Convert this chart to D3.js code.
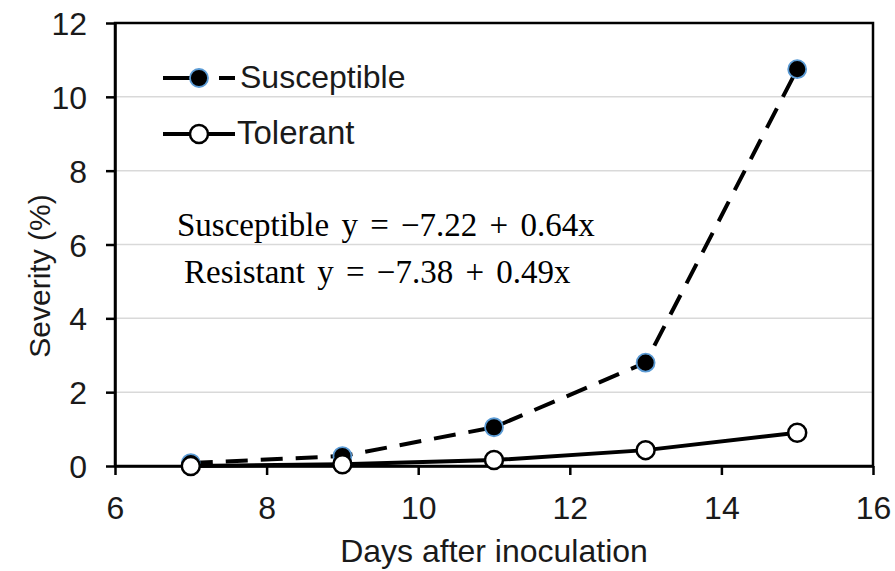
<!DOCTYPE html>
<html>
<head>
<meta charset="utf-8">
<script src="https://cdn.jsdelivr.net/npm/d3@7"></script>
<style>
  body { margin: 0; background: #fff; }
  svg { display: block; }
</style>
</head>
<body>
<svg width="895" height="571" viewBox="0 0 895 571"></svg>
<script>
// Data
const days = [7, 9, 11, 13, 15];
const susceptible = [0.08, 0.27, 1.05, 2.8, 10.75];
const tolerant = [0.0, 0.05, 0.16, 0.43, 0.9];
const xTicks = [6, 8, 10, 12, 14, 16];
const yTicks = [0, 2, 4, 6, 8, 10, 12];
const equations = ["Susceptible y = \u22127.22 + 0.64x", "Resistant y = \u22127.38 + 0.49x"];

const svg = d3.select("svg");
const margin = { left: 115, right: 22, top: 23, bottom: 105 };
const width = 895, height = 571;

const x = d3.scaleLinear().domain([6, 16]).range([margin.left, width - margin.right]);
const y = d3.scaleLinear().domain([0, 12]).range([height - margin.bottom, margin.top]);

const font = "'Liberation Sans', Arial, sans-serif";
const textColor = "#1a1a1a";

// Gridlines
svg.append("g")
    .selectAll("line")
    .data(yTicks.filter(d => d > 0 && d < 12))
    .enter()
    .append("line")
    .attr("x1", x(6)).attr("x2", x(16))
    .attr("y1", d => y(d)).attr("y2", d => y(d))
    .attr("stroke", "#d9d9d9")
    .attr("stroke-width", 1.5);

// Plot box
svg.append("rect")
    .attr("x", x(6)).attr("y", y(12))
    .attr("width", x(16) - x(6)).attr("height", y(0) - y(12))
    .attr("fill", "none")
    .attr("stroke", "#000")
    .attr("stroke-width", 2.5);

// Axes
const xAxis = svg.append("g")
    .attr("transform", `translate(0,${y(0)})`)
    .call(d3.axisBottom(x).tickValues(xTicks).tickSize(9).tickSizeOuter(0).tickPadding(21));
const yAxis = svg.append("g")
    .attr("transform", `translate(${x(6)},0)`)
    .call(d3.axisLeft(y).tickValues(yTicks).tickSize(9).tickSizeOuter(0).tickPadding(19));

[xAxis, yAxis].forEach(g => {
    g.attr("font-size", 32).attr("font-family", font);
    g.select(".domain").attr("stroke", "#000").attr("stroke-width", 2.5);
    g.selectAll(".tick line").attr("stroke", "#000").attr("stroke-width", 2.5);
    g.selectAll(".tick text").attr("fill", textColor);
});
yAxis.selectAll(".tick text").attr("dy", "0.36em");

// Axis titles
svg.append("text")
    .attr("x", (x(6) + x(16)) / 2)
    .attr("y", 562)
    .attr("text-anchor", "middle")
    .attr("font-family", font)
    .attr("font-size", 32)
    .attr("fill", textColor)
    .text("Days after inoculation");

svg.append("text")
    .attr("transform", `translate(50,276) rotate(-90)`)
    .attr("text-anchor", "middle")
    .attr("font-family", font)
    .attr("font-size", 30)
    .attr("fill", textColor)
    .text("Severity (%)");

// Series lines
const line = d3.line().x(d => x(d[0])).y(d => y(d[1]));
const suscData = days.map((d, i) => [d, susceptible[i]]);
const tolData = days.map((d, i) => [d, tolerant[i]]);

svg.append("path")
    .datum(suscData)
    .attr("d", line)
    .attr("fill", "none")
    .attr("stroke", "#000")
    .attr("stroke-width", 4)
    .attr("stroke-dasharray", "22,13");

svg.append("g")
    .selectAll("circle")
    .data(suscData)
    .enter()
    .append("circle")
    .attr("cx", d => x(d[0])).attr("cy", d => y(d[1]))
    .attr("r", 9)
    .attr("fill", "#000")
    .attr("stroke", "#5b9bd5")
    .attr("stroke-width", 1.8);

svg.append("path")
    .datum(tolData)
    .attr("d", line)
    .attr("fill", "none")
    .attr("stroke", "#000")
    .attr("stroke-width", 4);

svg.append("g")
    .selectAll("circle")
    .data(tolData)
    .enter()
    .append("circle")
    .attr("cx", d => x(d[0])).attr("cy", d => y(d[1]))
    .attr("r", 9)
    .attr("fill", "#fff")
    .attr("stroke", "#000")
    .attr("stroke-width", 2.5);

// Legend
const legend = svg.append("g");
legend.append("line")
    .attr("x1", 163).attr("x2", 191).attr("y1", 78).attr("y2", 78)
    .attr("stroke", "#000").attr("stroke-width", 4);
legend.append("line")
    .attr("x1", 219).attr("x2", 235).attr("y1", 78).attr("y2", 78)
    .attr("stroke", "#000").attr("stroke-width", 4);
legend.append("circle")
    .attr("cx", 199).attr("cy", 78).attr("r", 9)
    .attr("fill", "#000").attr("stroke", "#5b9bd5").attr("stroke-width", 1.8);
legend.append("text")
    .attr("x", 240).attr("y", 88)
    .attr("font-family", font).attr("font-size", 32).attr("fill", textColor)
    .text("Susceptible");

legend.append("line")
    .attr("x1", 163).attr("x2", 235).attr("y1", 134).attr("y2", 134)
    .attr("stroke", "#000").attr("stroke-width", 4);
legend.append("circle")
    .attr("cx", 199).attr("cy", 134).attr("r", 9)
    .attr("fill", "#fff").attr("stroke", "#000").attr("stroke-width", 2.5);
legend.append("text")
    .attr("x", 237).attr("y", 144)
    .attr("font-family", font).attr("font-size", 33).attr("fill", textColor)
    .text("Tolerant");

// Regression equations
svg.append("g")
    .selectAll("text")
    .data(equations)
    .enter()
    .append("text")
    .attr("x", (d, i) => i === 0 ? 177 : 184)
    .attr("y", (d, i) => i === 0 ? 236 : 283)
    .attr("font-family", "'Liberation Serif', 'DejaVu Serif', serif")
    .attr("font-size", 33)
    .attr("word-spacing", 4)
    .attr("fill", "#000")
    .text(d => d);
</script>
</body>
</html>
